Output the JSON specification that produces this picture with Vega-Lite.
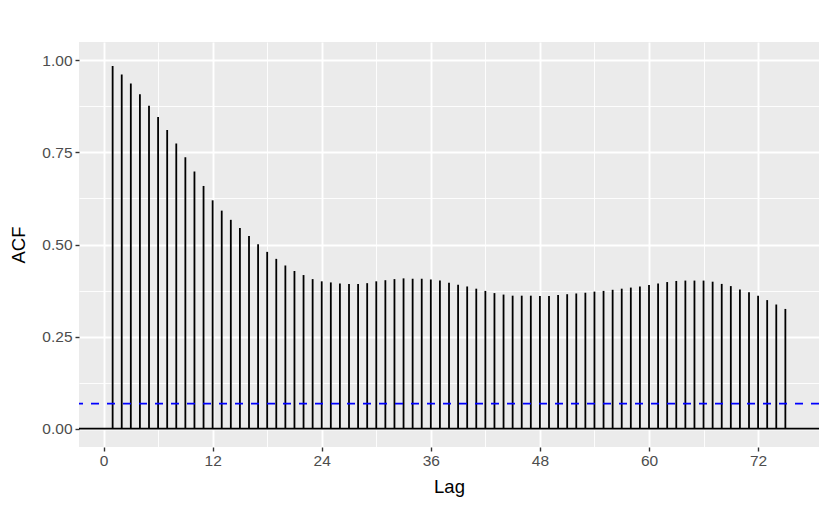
{
  "$schema": "https://vega.github.io/schema/vega-lite/v6.json",
  "width": 740,
  "height": 405,
  "autosize": "none",
  "padding": {"left": 79, "top": 42, "right": 11, "bottom": 64},
  "background": "white",
  "config": {
    "view": {"fill": "#EBEBEB", "stroke": null},
    "font": "Liberation Sans"
  },
  "datasets": {
    "acf": [
      {"lag": 1, "acf": 0.985}, {"lag": 2, "acf": 0.962}, {"lag": 3, "acf": 0.937}, {"lag": 4, "acf": 0.908},
      {"lag": 5, "acf": 0.877}, {"lag": 6, "acf": 0.846}, {"lag": 7, "acf": 0.811}, {"lag": 8, "acf": 0.774},
      {"lag": 9, "acf": 0.737}, {"lag": 10, "acf": 0.698}, {"lag": 11, "acf": 0.659}, {"lag": 12, "acf": 0.620},
      {"lag": 13, "acf": 0.592}, {"lag": 14, "acf": 0.567}, {"lag": 15, "acf": 0.545}, {"lag": 16, "acf": 0.523},
      {"lag": 17, "acf": 0.501}, {"lag": 18, "acf": 0.480}, {"lag": 19, "acf": 0.461}, {"lag": 20, "acf": 0.443},
      {"lag": 21, "acf": 0.428}, {"lag": 22, "acf": 0.417}, {"lag": 23, "acf": 0.406}, {"lag": 24, "acf": 0.400},
      {"lag": 25, "acf": 0.397}, {"lag": 26, "acf": 0.394}, {"lag": 27, "acf": 0.393}, {"lag": 28, "acf": 0.393},
      {"lag": 29, "acf": 0.395}, {"lag": 30, "acf": 0.400}, {"lag": 31, "acf": 0.403}, {"lag": 32, "acf": 0.406},
      {"lag": 33, "acf": 0.408}, {"lag": 34, "acf": 0.407}, {"lag": 35, "acf": 0.407}, {"lag": 36, "acf": 0.405},
      {"lag": 37, "acf": 0.402}, {"lag": 38, "acf": 0.396}, {"lag": 39, "acf": 0.391}, {"lag": 40, "acf": 0.386},
      {"lag": 41, "acf": 0.380}, {"lag": 42, "acf": 0.374}, {"lag": 43, "acf": 0.368}, {"lag": 44, "acf": 0.364},
      {"lag": 45, "acf": 0.361}, {"lag": 46, "acf": 0.361}, {"lag": 47, "acf": 0.361}, {"lag": 48, "acf": 0.360},
      {"lag": 49, "acf": 0.360}, {"lag": 50, "acf": 0.363}, {"lag": 51, "acf": 0.365}, {"lag": 52, "acf": 0.367},
      {"lag": 53, "acf": 0.369}, {"lag": 54, "acf": 0.372}, {"lag": 55, "acf": 0.374}, {"lag": 56, "acf": 0.377},
      {"lag": 57, "acf": 0.380}, {"lag": 58, "acf": 0.383}, {"lag": 59, "acf": 0.386}, {"lag": 60, "acf": 0.390},
      {"lag": 61, "acf": 0.394}, {"lag": 62, "acf": 0.398}, {"lag": 63, "acf": 0.401}, {"lag": 64, "acf": 0.402},
      {"lag": 65, "acf": 0.402}, {"lag": 66, "acf": 0.402}, {"lag": 67, "acf": 0.399}, {"lag": 68, "acf": 0.393},
      {"lag": 69, "acf": 0.387}, {"lag": 70, "acf": 0.378}, {"lag": 71, "acf": 0.370}, {"lag": 72, "acf": 0.361},
      {"lag": 73, "acf": 0.349}, {"lag": 74, "acf": 0.337}, {"lag": 75, "acf": 0.325}
    ],
    "zero": [{"value": 0}],
    "ci": [{"value": 0.0678}]
  },
  "resolve": {"axis": {"x": "independent", "y": "independent"}},
  "layer": [
    {
      "data": {"name": "zero"},
      "mark": {"type": "rule", "opacity": 0},
      "encoding": {
        "x": {
          "field": "value", "type": "quantitative",
          "scale": {"domain": [-2.7, 78.7], "nice": false, "zero": false},
          "axis": {
            "orient": "bottom",
            "values": [6, 18, 30, 42, 54, 66],
            "grid": true, "gridColor": "white", "gridWidth": 0.9,
            "labels": false, "ticks": false, "domain": false, "title": null
          }
        },
        "y": {
          "field": "value", "type": "quantitative",
          "scale": {"domain": [-0.05, 1.05], "nice": false, "zero": false},
          "axis": {
            "orient": "left",
            "values": [0.125, 0.375, 0.625, 0.875],
            "grid": true, "gridColor": "white", "gridWidth": 0.9,
            "labels": false, "ticks": false, "domain": false, "title": null
          }
        }
      }
    },
    {
      "data": {"name": "acf"},
      "mark": {"type": "rule", "color": "black", "strokeWidth": 1.8},
      "encoding": {
        "x": {
          "field": "lag", "type": "quantitative",
          "scale": {"domain": [-2.7, 78.7], "nice": false, "zero": false},
          "axis": {
            "orient": "bottom",
            "values": [0, 12, 24, 36, 48, 60, 72],
            "grid": true, "gridColor": "white", "gridWidth": 1.9,
            "domain": false,
            "ticks": true, "tickColor": "#333333", "tickSize": 4, "tickWidth": 1.4,
            "labelColor": "#4D4D4D", "labelFontSize": 15.5, "labelFont": "Liberation Sans", "labelPadding": 2,
            "title": "Lag", "titleColor": "black", "titleFontSize": 18.5, "titleFontWeight": "normal",
            "titleFont": "Liberation Sans", "titlePadding": 9
          }
        },
        "y": {
          "field": "acf", "type": "quantitative",
          "scale": {"domain": [-0.05, 1.05], "nice": false, "zero": false},
          "axis": {
            "orient": "left",
            "values": [0, 0.25, 0.5, 0.75, 1],
            "format": ".2f",
            "grid": true, "gridColor": "white", "gridWidth": 1.9,
            "domain": false,
            "ticks": true, "tickColor": "#333333", "tickSize": 4, "tickWidth": 1.4,
            "labelColor": "#4D4D4D", "labelFontSize": 15.5, "labelFont": "Liberation Sans", "labelPadding": 3,
            "title": "ACF", "titleColor": "black", "titleFontSize": 18.5, "titleFontWeight": "normal",
            "titleFont": "Liberation Sans", "titlePadding": 13
          }
        },
        "y2": {"datum": 0}
      }
    },
    {
      "data": {"name": "zero"},
      "mark": {"type": "rule", "color": "black", "strokeWidth": 1.8},
      "encoding": {"y": {"field": "value", "type": "quantitative", "axis": null}}
    },
    {
      "data": {"name": "ci"},
      "mark": {"type": "rule", "color": "#0000FF", "strokeWidth": 1.8, "strokeDash": [8, 8]},
      "encoding": {"y": {"field": "value", "type": "quantitative", "axis": null}}
    }
  ]
}
